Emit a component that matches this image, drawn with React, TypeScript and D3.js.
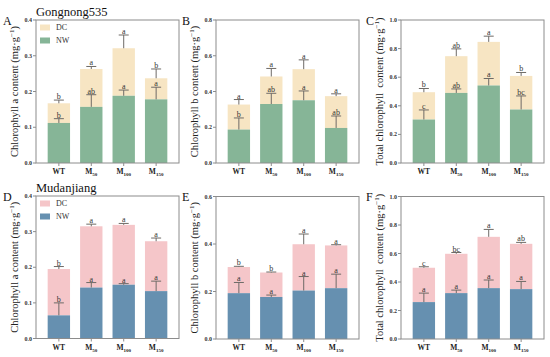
import React from "react";
import * as d3 from "d3";

const categories = ["WT", "M50", "M100", "M150"];
const catMain = ["WT", "M", "M", "M"];
const catSub = ["", "50", "100", "150"];

// Panel A: Chl a, Gongnong535
const aNW = [0.112, 0.157, 0.188, 0.178];
const aTot = [0.167, 0.263, 0.321, 0.237];
const aNWErr = [0.124, 0.191, 0.204, 0.212];
const aTotErr = [0.176, 0.27, 0.358, 0.263];
const aNWLet = ["b", "ab", "a", "a"];
const aTotLet = ["b", "a", "a", "b"];

// Panel B: Chl b, Gongnong535
const bNW = [0.187, 0.33, 0.351, 0.196];
const bTot = [0.327, 0.484, 0.525, 0.374];
const bNWErr = [0.252, 0.39, 0.403, 0.263];
const bTotErr = [0.355, 0.529, 0.577, 0.387];
const bNWLet = ["b", "ab", "a", "ab"];
const bTotLet = ["a", "a", "a", "a"];

// Panel C: Total chl, Gongnong535
const cNW = [0.304, 0.49, 0.542, 0.374];
const cTot = [0.495, 0.747, 0.847, 0.609];
const cNWErr = [0.371, 0.518, 0.591, 0.469];
const cTotErr = [0.521, 0.798, 0.887, 0.633];
const cNWLet = ["c", "ab", "a", "bc"];
const cTotLet = ["b", "ab", "a", "b"];

// Panel D: Chl a, Mudanjiang
const dNW = [0.065, 0.143, 0.151, 0.133];
const dTot = [0.195, 0.315, 0.319, 0.273];
const dNWErr = [0.1, 0.157, 0.154, 0.161];
const dTotErr = [0.202, 0.321, 0.323, 0.282];
const dNWLet = ["b", "a", "a", "a"];
const dTotLet = ["b", "a", "a", "a"];

// Panel E: Chl b, Mudanjiang
const eNW = [0.193, 0.177, 0.204, 0.214];
const eTot = [0.303, 0.28, 0.399, 0.394];
const eNWErr = [0.238, 0.185, 0.263, 0.273];
const eTotErr = [0.306, 0.282, 0.442, 0.397];
const eNWLet = ["a", "a", "a", "a"];
const eTotLet = ["b", "b", "a", "a"];

// Panel F: Total chl, Mudanjiang
const fNW = [0.259, 0.322, 0.357, 0.35];
const fTot = [0.5, 0.598, 0.717, 0.668];
const fNWErr = [0.322, 0.343, 0.414, 0.404];
const fTotErr = [0.507, 0.607, 0.769, 0.678];
const fNWLet = ["a", "a", "a", "a"];
const fTotLet = ["c", "bc", "a", "ab"];

const ticksA = [0, 0.1, 0.2, 0.3, 0.4];
const ticksB = [0, 0.2, 0.4, 0.6, 0.8];
const ticksC = [0, 0.2, 0.4, 0.6, 0.8, 1.0];
const ticksE = [0, 0.2, 0.4, 0.6];

const legendLabels = ["DC", "NW"];

const SERIF = "'Liberation Serif', 'Times New Roman', serif";
const GREEN = "#86b597";
const YELLOW = "#f7e5c3";
const BLUE = "#6690b0";
const PINK = "#f5c6c9";
const FRAME = "#8c8c8c";
const ERR = "#6e6a66";

type PanelProps = {
  x0: number; x1: number; y0: number; y1: number;
  ymax: number; ticks: number[];
  nw: number[]; tot: number[]; nwErr: number[]; totErr: number[];
  nwLet: string[]; totLet: string[];
  nwColor: string; dcColor: string;
  ylabel: string; labelX: number;
  letter: string; letterX: number; letterY: number;
  title?: string; titleY?: number;
  legend?: boolean;
};

function Panel(p: PanelProps) {
  const x = d3.scaleBand<string>().domain(categories).range([p.x0, p.x1]).paddingInner(0.31).paddingOuter(0.36);
  const y = d3.scaleLinear().domain([0, p.ymax]).range([p.y1, p.y0]);
  const bw = x.bandwidth();
  const cy = (p.y0 + p.y1) / 2;
  return (
    <g>
      {categories.map((c, i) => {
        const bx = x(c)!;
        const cx = bx + bw / 2;
        return (
          <g key={c}>
            <rect x={bx} y={y(p.tot[i])} width={bw} height={y(p.nw[i]) - y(p.tot[i])} fill={p.dcColor} />
            <rect x={bx} y={y(p.nw[i])} width={bw} height={y(0) - y(p.nw[i])} fill={p.nwColor} />
            <line x1={cx} x2={cx} y1={y(p.tot[i])} y2={y(p.totErr[i])} stroke={ERR} strokeWidth={1} />
            <line x1={cx - 5} x2={cx + 5} y1={y(p.totErr[i])} y2={y(p.totErr[i])} stroke={ERR} strokeWidth={1} />
            <line x1={cx} x2={cx} y1={y(p.nw[i])} y2={y(p.nwErr[i])} stroke={ERR} strokeWidth={1} />
            <line x1={cx - 5} x2={cx + 5} y1={y(p.nwErr[i])} y2={y(p.nwErr[i])} stroke={ERR} strokeWidth={1} />
            <text x={cx} y={y(p.totErr[i]) - 1} textAnchor="middle" fontSize={8} fontFamily={SERIF} fill="#333">{p.totLet[i]}</text>
            <text x={cx} y={y(p.nwErr[i]) - 1} textAnchor="middle" fontSize={8} fontFamily={SERIF} fill="#333">{p.nwLet[i]}</text>
            <line x1={cx} x2={cx} y1={p.y1} y2={p.y1 + 3} stroke={FRAME} strokeWidth={1} />
            <text x={cx} y={p.y1 + 11} textAnchor="middle" fontSize={7.5} fontWeight="bold" fontFamily={SERIF} fill="#222">
              {catMain[i]}
              {catSub[i] && <tspan fontSize={5} dy={2}>{catSub[i]}</tspan>}
            </text>
          </g>
        );
      })}
      <rect x={p.x0} y={p.y0} width={p.x1 - p.x0} height={p.y1 - p.y0} fill="none" stroke={FRAME} strokeWidth={1} />
      {p.ticks.map((t) => (
        <g key={t}>
          <line x1={p.x0 - 3} x2={p.x0} y1={y(t)} y2={y(t)} stroke={FRAME} strokeWidth={1} />
          <text x={p.x0 - 4} y={y(t) + 2} textAnchor="end" fontSize={6} fontWeight="bold" fontFamily={SERIF} fill="#333">{t.toFixed(1)}</text>
        </g>
      ))}
      <text transform={`translate(${p.labelX},${cy}) rotate(-90)`} textAnchor="middle" fontSize={10.5} fontFamily={SERIF} fill="#222">
        {p.ylabel}
        <tspan>(mg·g</tspan>
        <tspan fontSize={7} dy={-4}>−1</tspan>
        <tspan dy={4}>)</tspan>
      </text>
      <text x={p.letterX} y={p.letterY} fontSize={12} fontFamily={SERIF} fill="#111">{p.letter}</text>
      {p.title && (
        <text x={p.x0} y={p.titleY} fontSize={12.5} fontFamily={SERIF} fill="#111">{p.title}</text>
      )}
      {p.legend && legendLabels.map((l, i) => (
        <g key={l}>
          <rect x={p.x0 + 4} y={p.y0 + 4.5 + i * 13} width={10} height={6} fill={i === 0 ? p.dcColor : p.nwColor} />
          <text x={p.x0 + 20} y={p.y0 + 10 + i * 13} fontSize={8} fontFamily={SERIF} fill="#333">{l}</text>
        </g>
      ))}
    </g>
  );
}

export default function App() {
  return (
    <svg width={550} height={357} style={{ position: "absolute", left: 0, top: 0, background: "#fff" }}>
      <Panel x0={36} x1={179} y0={20} y1={163} ymax={0.4} ticks={ticksA}
        nw={aNW} tot={aTot} nwErr={aNWErr} totErr={aTotErr} nwLet={aNWLet} totLet={aTotLet}
        nwColor={GREEN} dcColor={YELLOW} ylabel="Chlorophyll a content " labelX={18}
        letter="A" letterX={3} letterY={25} title="Gongnong535" titleY={16} legend />
      <Panel x0={216} x1={359} y0={20} y1={163} ymax={0.8} ticks={ticksB}
        nw={bNW} tot={bTot} nwErr={bNWErr} totErr={bTotErr} nwLet={bNWLet} totLet={bTotLet}
        nwColor={GREEN} dcColor={YELLOW} ylabel="Chlorophyll b content " labelX={198}
        letter="B" letterX={182} letterY={25} />
      <Panel x0={401} x1={544} y0={20} y1={163} ymax={1.0} ticks={ticksC}
        nw={cNW} tot={cTot} nwErr={cNWErr} totErr={cTotErr} nwLet={cNWLet} totLet={cTotLet}
        nwColor={GREEN} dcColor={YELLOW} ylabel={"Total chlorophyll\u00a0\u00a0content "} labelX={383}
        letter="C" letterX={366} letterY={25} />
      <Panel x0={36} x1={179} y0={196} y1={338.5} ymax={0.4} ticks={ticksA}
        nw={dNW} tot={dTot} nwErr={dNWErr} totErr={dTotErr} nwLet={dNWLet} totLet={dTotLet}
        nwColor={BLUE} dcColor={PINK} ylabel="Chlorophyll a content " labelX={18}
        letter="D" letterX={3} letterY={201} title="Mudanjiang" titleY={192} legend />
      <Panel x0={216} x1={359} y0={196.5} y1={339} ymax={0.6} ticks={ticksE}
        nw={eNW} tot={eTot} nwErr={eNWErr} totErr={eTotErr} nwLet={eNWLet} totLet={eTotLet}
        nwColor={BLUE} dcColor={PINK} ylabel="Chlorophyll b content " labelX={198}
        letter="E" letterX={182} letterY={201} />
      <Panel x0={401} x1={544} y0={196.5} y1={339} ymax={1.0} ticks={ticksC}
        nw={fNW} tot={fTot} nwErr={fNWErr} totErr={fTotErr} nwLet={fNWLet} totLet={fTotLet}
        nwColor={BLUE} dcColor={PINK} ylabel={"Total chlorophyll\u00a0\u00a0content "} labelX={383}
        letter="F" letterX={366} letterY={201} />
    </svg>
  );
}
